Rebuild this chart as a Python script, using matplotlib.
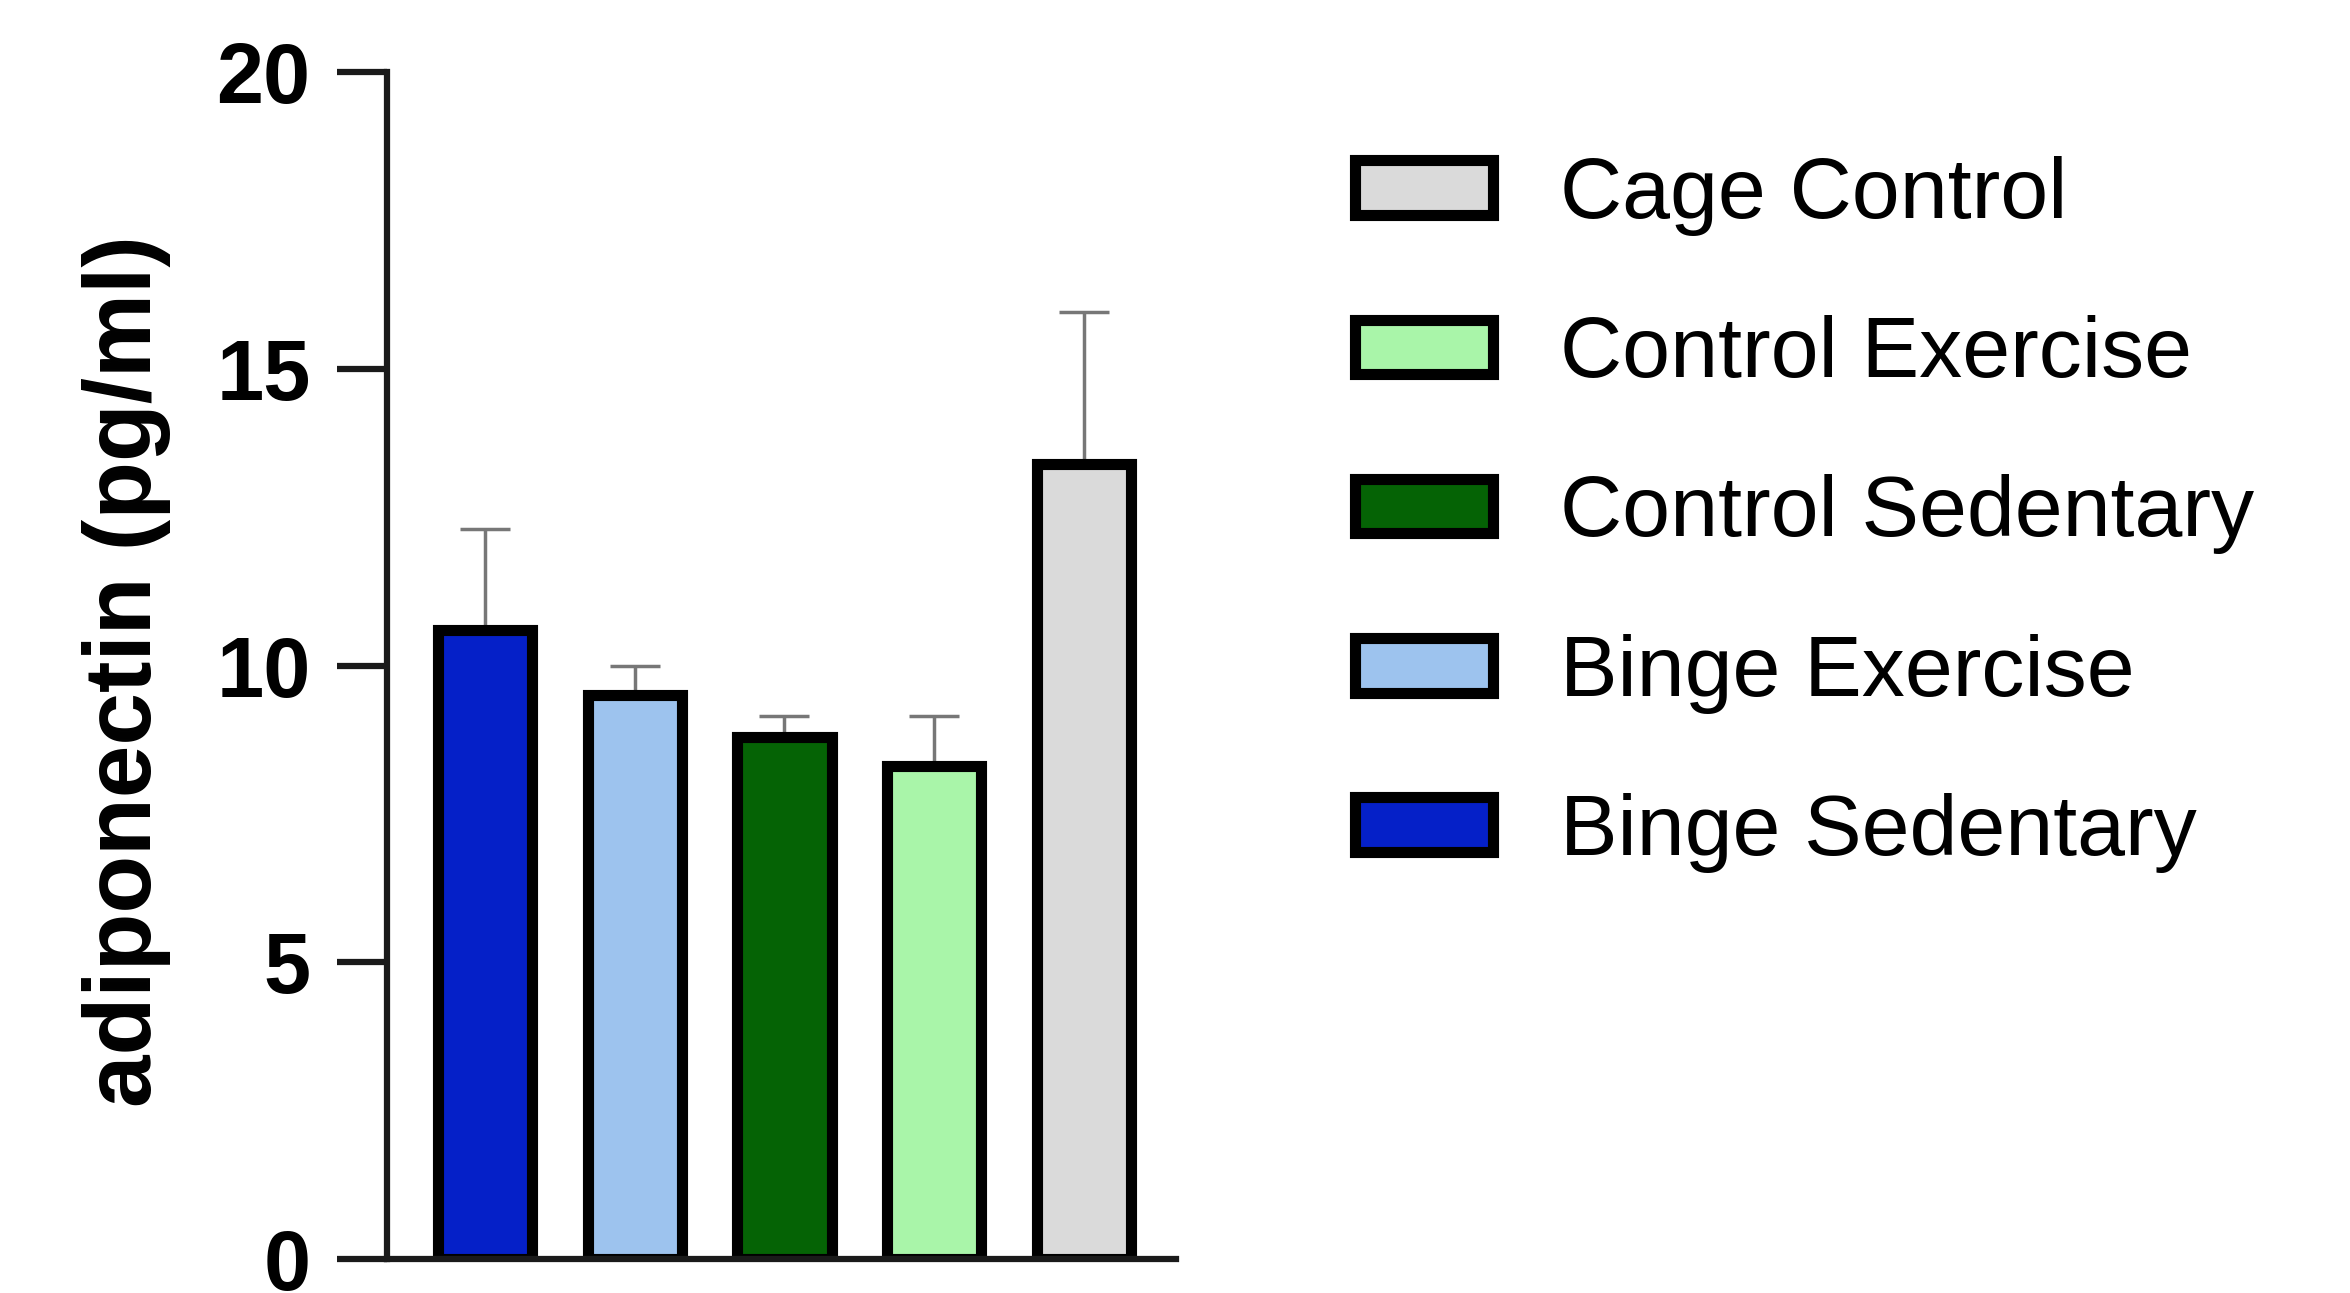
import matplotlib
matplotlib.use("Agg")
import matplotlib.pyplot as plt

categories = ["Binge Sedentary", "Binge Exercise", "Control Sedentary", "Control Exercise", "Cage Control"]
means = [10.6, 9.5, 8.8, 8.3, 13.4]
errors = [1.7, 0.5, 0.35, 0.85, 2.55]
colors = ["#0520C8", "#9DC3EE", "#056305", "#A9F5A9", "#DADADA"]
yticks = [0, 5, 10, 15, 20]
ylabel = "adiponectin (pg/ml)"

plt.rcParams['font.family'] = ['Liberation Sans', 'DejaVu Sans']

fig = plt.figure(figsize=(23.5, 12.93), dpi=100)
ax = fig.add_axes([0.1647, 0.0263, 0.5004 - 0.1647, 0.9443 - 0.0263])

x = list(range(len(categories)))
ax.errorbar(x, means, yerr=[[0] * len(means), errors], fmt='none', ecolor='#777777',
            elinewidth=2.5, capsize=18, capthick=2.5, zorder=1)
bars = ax.bar(x, means, width=0.63, color=colors, edgecolor='black', linewidth=8, zorder=2,
              label=categories)

ax.set_xlim(-0.655, 4.615)
ax.set_ylim(0, 20)
ax.set_yticks(yticks)
ax.set_yticklabels([str(t) for t in yticks], fontsize=61, fontweight='bold')
ax.set_xticks([])
for s in ['top', 'right']:
    ax.spines[s].set_visible(False)
for s in ['left', 'bottom']:
    ax.spines[s].set_linewidth(4.5)
    ax.spines[s].set_color('#1a1a1a')
ax.tick_params(axis='y', length=36, width=4.5, pad=19, color='#1a1a1a')

fig.text(127 / 2350, 0.481, ylabel, rotation=90, ha='center', va='center',
         fontsize=68, fontweight='bold')

handles = [bars[i] for i in range(len(categories))][::-1]
labels = categories[::-1]
fig.legend(handles, labels, loc='upper left', bbox_to_anchor=(1355 / 2350, 1 - 156 / 1293),
           frameon=False, fontsize=62, handlelength=1.6, handleheight=0.6,
           handletextpad=0.78, labelspacing=0.92, borderaxespad=0, borderpad=0)

fig.savefig("out.png", dpi=100)
